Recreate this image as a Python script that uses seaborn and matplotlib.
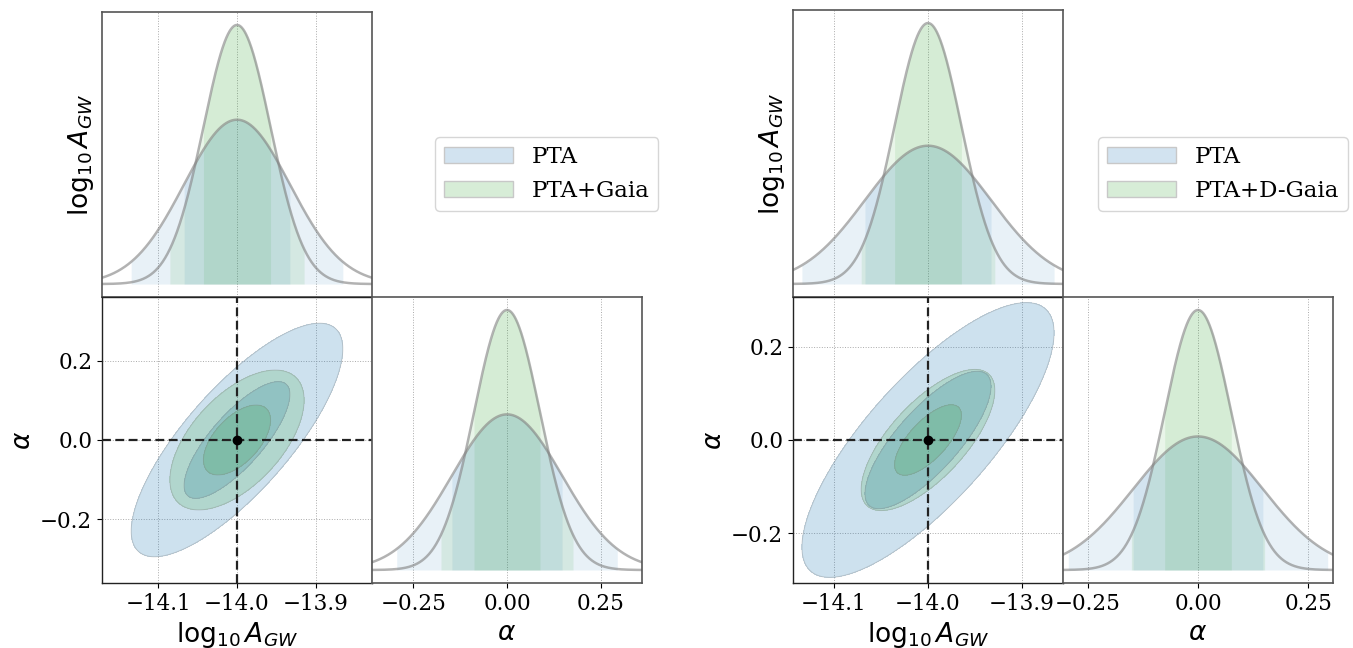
import numpy as np
import matplotlib
matplotlib.use("Agg")
import matplotlib.pyplot as plt
import seaborn as sns
from matplotlib.patches import Patch
from matplotlib.colors import to_rgba

# Gaussian posterior summaries for (log10 A_GW, alpha)
truth = [-14.0, 0.0]

pta_mean = [-14.0, 0.0]
pta_sigma = [0.067, 0.147]
pta_rho = 0.78

gaia_mean = [-14.0, 0.0]
gaia_sigma = [0.0425, 0.088]
gaia_rho = 0.57

dgaia_mean = [-14.0, 0.0]
dgaia_sigma = [0.0355, 0.0755]
dgaia_rho = 0.70

legend_labels = [["PTA", "PTA+Gaia"], ["PTA", "PTA+D-Gaia"]]
logA_limits = [(-14.171, -13.829), (-14.1435, -13.8565)]
alpha_limits = [(-0.36, 0.36), (-0.306, 0.306)]
logA_ticks = [-14.1, -14.0, -13.9]
alpha_ticks_2d = [-0.2, 0.0, 0.2]
alpha_ticks_1d = [-0.25, 0.0, 0.25]

BLUE = "#1f77b4"
GREEN = "#2ca02c"

sns.set_style("ticks")
plt.rcParams.update({
    "font.family": "serif",
    "font.serif": ["DejaVu Serif"],
    "mathtext.fontset": "dejavusans",
    "text.color": "black",
    "axes.labelcolor": "black",
    "xtick.color": "black",
    "ytick.color": "black",
    "xtick.labelsize": 15.5,
    "ytick.labelsize": 15.5,
    "xtick.major.size": 3.5,
    "ytick.major.size": 3.5,
    "xtick.direction": "out",
    "ytick.direction": "out",
})

W, H = 1353, 648
fig = plt.figure(figsize=(W / 100, H / 100), dpi=100)


def px_axes(x0, y0, w, h):
    return fig.add_axes([x0 / W, 1 - (y0 + h) / H, w / W, h / H])


def gauss(x, mu, sd):
    return np.exp(-0.5 * ((x - mu) / sd) ** 2) / (sd * np.sqrt(2 * np.pi))


def style_spines(ax, color, lw):
    for s in ax.spines.values():
        s.set_visible(True)
        s.set_color(color)
        s.set_linewidth(lw)


def draw_1d(ax, mus, sds, colors, lim, ticks):
    x = np.linspace(lim[0], lim[1], 800)
    peak = 0.0
    for mu, sd, c in zip(mus, sds, colors):
        for k in (2, 1):
            xb = np.linspace(mu - k * sd, mu + k * sd, 400)
            ax.fill_between(xb, 0, gauss(xb, mu, sd), color=c, alpha=0.1, lw=0)
        peak = max(peak, gauss(mu, mu, sd))
    for mu, sd in zip(mus, sds):
        sns.lineplot(x=x, y=gauss(x, mu, sd), ax=ax, color="grey", alpha=0.6,
                     linewidth=1.8, estimator=None, sort=False)
    ax.set_xlim(lim)
    ax.set_ylim(-0.05 * peak, 1.05 * peak)
    ax.set_xticks(ticks)
    ax.set_yticks([])
    ax.xaxis.grid(True, ls=":", color="#aaaaaa", lw=0.7)
    ax.set_axisbelow(True)
    style_spines(ax, "#555555", 1.2)


def draw_2d(ax, mean, sd, rho, color, alpha, xlim, ylim):
    gx = np.linspace(xlim[0], xlim[1], 500)
    gy = np.linspace(ylim[0], ylim[1], 500)
    X, Y = np.meshgrid(gx, gy)
    dx = (X - mean[0]) / sd[0]
    dy = (Y - mean[1]) / sd[1]
    r2 = (dx ** 2 - 2 * rho * dx * dy + dy ** 2) / (1 - rho ** 2)
    for r in (2, 1):
        ax.contourf(X, Y, r2, levels=[-1, r ** 2], colors=[color], alpha=alpha)
    ax.contour(X, Y, r2, levels=[1, 4], colors="grey", linewidths=0.7, alpha=0.35)


panels = [
    (102, 12, 285, [pta_mean, gaia_mean], [pta_sigma, gaia_sigma], [pta_rho, gaia_rho], 435),
    (793, 10, 287, [pta_mean, dgaia_mean], [pta_sigma, dgaia_sigma], [pta_rho, dgaia_rho], 1098),
]

for i, (x0, ytop, htop, means, sigmas, rhos, leg_x) in enumerate(panels):
    xlim = logA_limits[i]
    ylim = alpha_limits[i]
    colors = [BLUE, GREEN]

    ax_top = px_axes(x0, ytop, 270, htop)
    ax_2d = px_axes(x0, 297, 270, 286)
    ax_r = px_axes(x0 + 270, 297, 270, 286)

    # marginal of log10 A_GW
    draw_1d(ax_top, [m[0] for m in means], [s[0] for s in sigmas], colors, xlim, logA_ticks)
    ax_top.tick_params(axis="x", length=0, labelbottom=False)
    ax_top.set_ylabel(r"$\log_{10}A_{GW}$", fontsize=19)

    # joint posterior
    draw_2d(ax_2d, means[0], sigmas[0], rhos[0], BLUE, 0.22, xlim, ylim)
    draw_2d(ax_2d, means[1], sigmas[1], rhos[1], GREEN, 0.17, xlim, ylim)
    ax_2d.axvline(truth[0], color="#222222", ls=(0, (4, 2)), lw=1.6)
    ax_2d.axhline(truth[1], color="#222222", ls=(0, (4, 2)), lw=1.6)
    ax_2d.plot([truth[0]], [truth[1]], "o", color="black", ms=6)
    ax_2d.set_xlim(xlim)
    ax_2d.set_ylim(ylim)
    ax_2d.set_xticks(logA_ticks)
    ax_2d.set_yticks(alpha_ticks_2d)
    ax_2d.grid(True, ls=":", color="#aaaaaa", lw=0.7)
    ax_2d.set_xlabel(r"$\log_{10}A_{GW}$", fontsize=19)
    ax_2d.set_ylabel(r"$\alpha$", fontsize=19)
    style_spines(ax_2d, "#222222", 1.0)

    # marginal of alpha
    draw_1d(ax_r, [m[1] for m in means], [s[1] for s in sigmas], colors, ylim, alpha_ticks_1d)
    ax_r.set_xlabel(r"$\alpha$", fontsize=19)

    handles = [
        Patch(facecolor=to_rgba(BLUE, 0.2), edgecolor="#c8c8c8", lw=1, label=legend_labels[i][0]),
        Patch(facecolor=to_rgba(GREEN, 0.19), edgecolor="#c8c8c8", lw=1, label=legend_labels[i][1]),
    ]
    fig.legend(handles=handles, loc="upper left", bbox_to_anchor=(leg_x / W, 1 - 137 / H),
               bbox_transform=fig.transFigure, borderaxespad=0, fontsize=16.5,
               handlelength=3.0, frameon=True)

fig.savefig("out.png", dpi=100)
